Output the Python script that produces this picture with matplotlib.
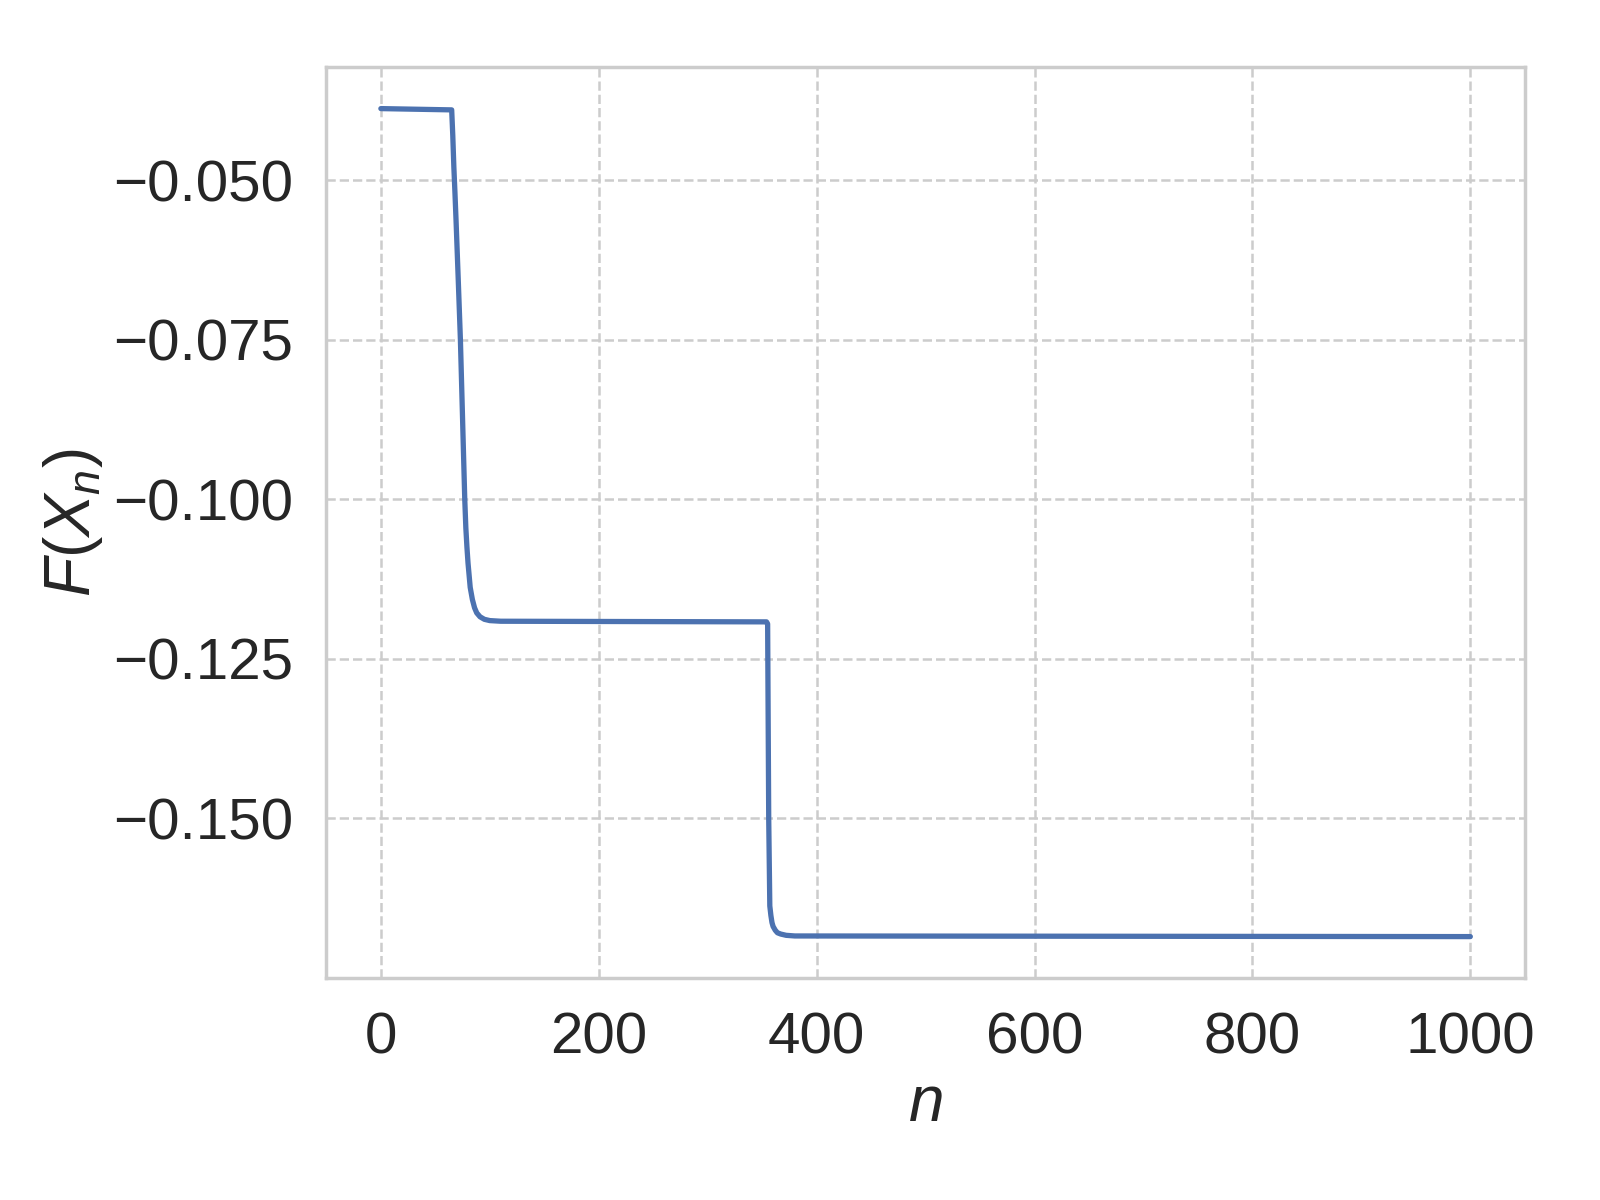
import numpy as np
import matplotlib
matplotlib.use("Agg")
import matplotlib.pyplot as plt
import seaborn as sns

# valori: F(X_n) in funzione dell'iterazione n
n_vals = [0, 65, 66, 67, 68, 69, 71, 73, 75, 77, 78, 79, 80, 82, 84, 86, 88,
          91, 95, 100, 110, 354, 355, 356, 357, 358, 359, 360, 362, 364, 367,
          372, 380, 1000]
f_vals = [-0.0388, -0.0390, -0.0430, -0.0480, -0.0520, -0.0563, -0.0655,
          -0.0750, -0.0875, -0.1000, -0.1045, -0.1075, -0.1100, -0.1138,
          -0.1157, -0.1170, -0.1178, -0.1184, -0.1188, -0.1190, -0.1191,
          -0.1192, -0.1195, -0.1500, -0.1637, -0.1652, -0.1663, -0.1669,
          -0.1675, -0.1679, -0.1681, -0.1683, -0.1684, -0.1685]

sns.set_theme(style="whitegrid")
plt.rcParams['font.family'] = ['Liberation Sans', 'DejaVu Sans']
plt.rcParams['mathtext.fontset'] = 'custom'
plt.rcParams['mathtext.it'] = 'Liberation Sans:italic'
plt.rcParams['mathtext.rm'] = 'Liberation Sans'

fig, ax = plt.subplots(figsize=(8, 6), dpi=200)
ax.plot(n_vals, f_vals, color="#4C72B0", linewidth=1.9)

ax.set_xlabel("$n$", fontsize=23, labelpad=3)
ax.set_ylabel("$F(X_n)$", fontsize=23, labelpad=3)
ax.set_xticks([0, 200, 400, 600, 800, 1000])
ax.set_yticks([-0.150, -0.125, -0.100, -0.075, -0.050])
ax.yaxis.set_major_formatter(
    matplotlib.ticker.FuncFormatter(lambda v, p: f"{v:.3f}".replace("-", "\u2212")))
ax.tick_params(labelsize=21, colors="#262626", pad=6)
ax.grid(True, linestyle="--", color="#cccccc", linewidth=0.9)
for s in ax.spines.values():
    s.set_color("#cccccc")
    s.set_linewidth(1.25)

fig.subplots_adjust(left=0.204, right=0.953, top=0.944, bottom=0.185)
fig.savefig("out.png", dpi=200)
